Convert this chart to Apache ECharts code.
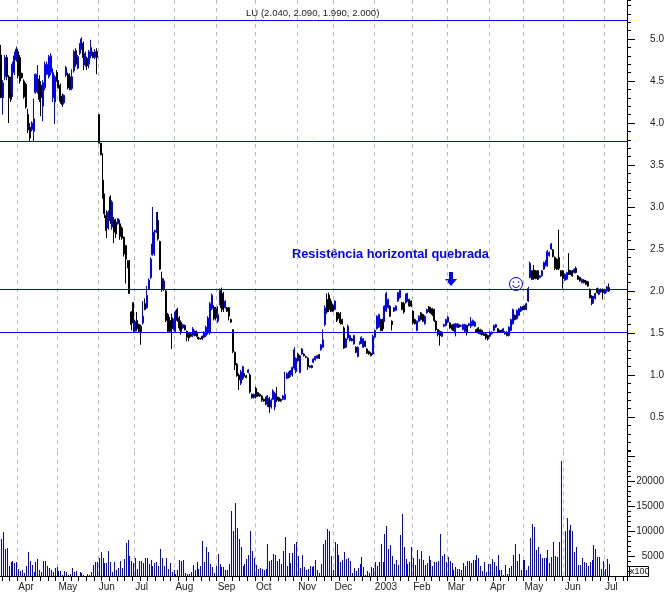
<!DOCTYPE html>
<html>
<head>
<meta charset="utf-8">
<style>
	html, body { margin: 0; padding: 0; background: #fff; }
	#chart { width: 667px; height: 592px; }
</style>
<script src="https://cdn.jsdelivr.net/npm/echarts@6/dist/echarts.min.js"></script>
</head>
<body>
<div id="chart"></div>
<script>
// trading days per month, first entry is the tail of March 2002
const monthNames = ['Mar', 'Apr', 'May', 'Jun', 'Jul', 'Aug', 'Sep', 'Oct', 'Nov', 'Dec', '2003', 'Feb', 'Mar', 'Apr', 'May', 'Jun', 'Jul'];
const monthDays = [9, 21, 21, 19, 21, 22, 20, 22, 19, 21, 20, 18, 22, 18, 21, 21, 3];
const blankDays = 9;

const highs = [
	4.93,4.51,4.81,4.81,4.57,4.55,4.73,4.85,4.91,4.88,
	4.81,4.60,4.52,4.48,4.17,4.00,4.02,4.29,4.59,4.69,
	4.57,4.50,4.51,4.73,4.73,4.81,4.83,4.65,4.57,4.63,
	4.51,4.47,4.35,4.34,4.68,4.60,4.59,4.64,4.87,4.89,
	4.81,4.95,5.02,4.97,4.85,4.79,4.87,4.99,4.85,4.88,
	4.89,4.10,3.76,3.64,3.16,2.96,2.96,3.14,3.08,2.88,
	2.86,2.87,2.85,2.77,2.65,2.55,2.37,2.37,1.76,1.87,
	1.66,1.75,1.61,1.60,1.88,1.91,2.06,2.15,2.40,3.00,
	2.73,2.94,2.94,2.60,2.23,2.15,2.01,1.74,1.69,1.73,
	1.67,1.77,1.80,1.70,1.65,1.61,1.60,1.53,1.51,1.50,
	1.57,1.53,1.53,1.45,1.44,1.47,1.52,1.59,1.70,1.87,
	1.97,1.83,1.81,1.82,2.03,2.04,1.99,1.89,1.81,1.81,
	1.67,1.54,1.28,1.14,1.02,1.06,1.11,1.02,1.00,1.07,
	1.02,0.78,0.78,0.86,0.80,0.78,0.76,0.72,0.74,0.76,
	0.74,0.72,0.83,0.80,0.86,0.74,0.72,0.76,1.04,1.03,
	1.04,1.06,1.10,1.33,1.21,1.26,1.24,1.32,1.26,1.23,
	1.21,1.12,1.12,1.20,1.23,1.24,1.25,1.37,1.54,1.83,
	1.97,1.98,1.91,1.85,1.89,1.75,1.75,1.75,1.67,1.58,
	1.44,1.60,1.48,1.44,1.48,1.34,1.34,1.40,1.46,1.44,
	1.41,1.32,1.29,1.27,1.48,1.54,1.71,1.73,1.67,1.67,
	1.83,1.99,1.91,1.83,1.65,1.81,1.83,1.99,2.02,1.87,
	1.87,1.97,1.98,1.91,1.89,1.77,1.67,1.65,1.71,1.75,
	1.73,1.71,1.79,1.82,1.81,1.80,1.79,1.65,1.55,1.53,
	1.52,1.61,1.67,1.70,1.63,1.60,1.61,1.62,1.62,1.61,
	1.60,1.61,1.61,1.60,1.62,1.69,1.66,1.64,1.55,1.57,
	1.55,1.54,1.50,1.50,1.48,1.52,1.52,1.60,1.61,1.56,
	1.54,1.54,1.56,1.52,1.52,1.58,1.67,1.79,1.72,1.78,
	1.80,1.82,1.82,1.83,1.86,2.05,2.35,2.25,2.31,2.25,
	2.25,2.19,2.25,2.35,2.37,2.49,2.47,2.57,2.50,2.41,
	2.39,2.73,2.25,2.25,2.21,2.23,2.45,2.25,2.25,2.27,
	2.29,2.19,2.17,2.15,2.14,2.13,2.12,2.03,1.95,1.94,
	1.98,2.04,2.03,2.03,2.03,2.02,2.06,2.09
];
const lows = [
	4.30,4.10,4.51,4.51,4.00,4.25,4.31,4.57,4.73,4.53,
	4.47,4.53,4.29,4.17,3.88,3.78,3.90,3.78,4.35,4.35,
	4.25,4.08,4.02,4.39,4.57,4.53,4.57,4.25,3.99,4.49,
	4.41,4.23,4.19,4.22,4.55,4.40,4.39,4.39,4.60,4.67,
	4.64,4.81,4.87,4.63,4.67,4.63,4.65,4.77,4.77,4.76,
	4.58,3.76,3.62,3.10,2.87,2.63,2.73,2.80,2.73,2.57,
	2.63,2.79,2.61,2.61,2.41,2.09,2.27,1.97,1.53,1.50,
	1.50,1.52,1.50,1.36,1.60,1.77,1.79,2.01,2.14,2.42,
	2.42,2.69,2.60,2.25,1.99,2.00,1.63,1.50,1.50,1.31,
	1.53,1.50,1.63,1.53,1.48,1.55,1.53,1.40,1.40,1.45,
	1.45,1.46,1.45,1.42,1.42,1.42,1.44,1.45,1.48,1.48,
	1.77,1.65,1.65,1.62,1.83,1.75,1.75,1.79,1.75,1.65,
	1.62,1.26,1.06,0.98,0.82,0.88,0.94,0.98,0.96,1.02,
	0.78,0.72,0.72,0.72,0.74,0.74,0.68,0.68,0.64,0.62,
	0.55,0.60,0.70,0.58,0.68,0.68,0.68,0.70,0.70,0.95,
	0.96,0.98,0.98,1.06,1.02,1.16,1.02,1.24,1.22,1.20,
	1.06,1.08,1.08,1.14,1.17,1.19,1.19,1.29,1.32,1.58,
	1.73,1.75,1.75,1.75,1.77,1.63,1.67,1.60,1.60,1.31,
	1.32,1.42,1.40,1.40,1.36,1.26,1.21,1.36,1.37,1.32,
	1.33,1.25,1.24,1.22,1.24,1.44,1.54,1.56,1.52,1.52,
	1.63,1.75,1.79,1.69,1.53,1.75,1.76,1.87,1.91,1.77,
	1.73,1.85,1.87,1.81,1.81,1.60,1.60,1.52,1.63,1.65,
	1.63,1.60,1.73,1.75,1.73,1.70,1.63,1.52,1.46,1.35,
	1.45,1.57,1.58,1.62,1.55,1.54,1.52,1.46,1.56,1.56,
	1.57,1.53,1.50,1.47,1.58,1.56,1.58,1.57,1.50,1.49,
	1.48,1.47,1.47,1.42,1.41,1.45,1.48,1.52,1.56,1.50,
	1.50,1.50,1.50,1.48,1.46,1.46,1.52,1.60,1.65,1.66,
	1.70,1.75,1.77,1.77,1.77,1.87,2.15,2.13,2.13,2.14,
	2.13,2.15,2.17,2.25,2.29,2.29,2.41,2.49,2.40,2.25,
	2.25,2.25,2.17,2.03,2.12,2.13,2.19,2.19,2.17,2.21,
	2.21,2.13,2.11,2.09,2.09,2.07,2.05,1.91,1.83,1.85,
	1.90,1.97,1.95,1.98,1.90,1.96,1.98,1.99
];
const opens = [
	4.81,4.30,4.55,4.78,4.55,4.52,4.35,4.60,4.75,4.85,
	4.78,4.59,4.50,4.46,4.10,3.95,3.92,3.90,4.36,4.37,
	4.52,4.45,4.20,4.42,4.58,4.55,4.60,4.30,4.25,4.60,
	4.50,4.45,4.32,4.24,4.57,4.58,4.55,4.41,4.62,4.86,
	4.65,4.83,4.89,4.95,4.69,4.77,4.70,4.80,4.84,4.78,
	4.85,4.10,3.76,3.32,3.14,2.90,2.75,3.12,2.76,2.85,
	2.82,2.80,2.80,2.75,2.64,2.54,2.36,2.28,1.75,1.86,
	1.52,1.65,1.60,1.58,1.62,1.85,1.80,2.02,2.16,2.43,
	2.44,2.70,2.84,2.59,2.15,2.02,2.00,1.72,1.65,1.68,
	1.55,1.52,1.78,1.68,1.63,1.56,1.59,1.52,1.50,1.49,
	1.47,1.52,1.51,1.45,1.44,1.46,1.45,1.47,1.50,1.50,
	1.79,1.81,1.79,1.64,1.85,2.00,1.97,1.80,1.80,1.80,
	1.66,1.54,1.27,1.13,1.00,0.90,0.96,1.01,0.99,1.03,
	1.00,0.77,0.73,0.84,0.79,0.77,0.75,0.71,0.72,0.65,
	0.72,0.62,0.71,0.62,0.74,0.73,0.71,0.71,0.71,0.96,
	1.03,0.99,1.00,1.08,1.04,1.25,1.03,1.25,1.25,1.22,
	1.20,1.09,1.11,1.15,1.18,1.20,1.24,1.30,1.33,1.60,
	1.90,1.95,1.88,1.83,1.78,1.74,1.74,1.73,1.66,1.56,
	1.33,1.44,1.41,1.43,1.37,1.33,1.22,1.37,1.38,1.33,
	1.40,1.31,1.28,1.26,1.25,1.45,1.55,1.57,1.66,1.65,
	1.64,1.76,1.80,1.82,1.64,1.76,1.77,1.88,1.92,1.86,
	1.85,1.86,1.88,1.90,1.88,1.76,1.66,1.53,1.64,1.74,
	1.72,1.61,1.74,1.81,1.80,1.79,1.78,1.64,1.54,1.52,
	1.46,1.58,1.59,1.63,1.62,1.59,1.60,1.50,1.57,1.60,
	1.58,1.54,1.52,1.59,1.59,1.58,1.59,1.58,1.54,1.56,
	1.54,1.53,1.49,1.49,1.47,1.46,1.49,1.53,1.57,1.55,
	1.53,1.53,1.51,1.51,1.51,1.47,1.53,1.61,1.71,1.67,
	1.71,1.76,1.81,1.82,1.78,1.88,2.16,2.24,2.25,2.24,
	2.24,2.16,2.18,2.26,2.30,2.31,2.42,2.50,2.49,2.40,
	2.38,2.40,2.24,2.24,2.13,2.14,2.25,2.24,2.24,2.22,
	2.27,2.18,2.16,2.10,2.13,2.12,2.11,2.02,1.94,1.86,
	1.91,2.03,1.96,2.02,2.02,1.97,2.00,2.04
];
const closes = [
	4.30,4.48,4.78,4.55,4.30,4.28,4.70,4.80,4.88,4.56,
	4.50,4.54,4.31,4.19,3.92,3.82,4.00,4.05,4.58,4.58,
	4.28,4.30,4.48,4.70,4.70,4.79,4.80,4.60,4.55,4.50,
	4.42,4.26,4.22,4.33,4.66,4.42,4.40,4.55,4.85,4.70,
	4.79,4.93,5.00,4.78,4.83,4.68,4.85,4.90,4.78,4.85,
	4.78,3.76,3.62,3.12,2.92,2.72,2.94,2.84,3.06,2.70,
	2.68,2.86,2.65,2.63,2.44,2.38,2.28,1.97,1.60,1.62,
	1.64,1.55,1.52,1.50,1.70,1.78,1.95,2.13,2.38,2.56,
	2.70,2.72,2.62,2.26,2.02,2.12,1.65,1.52,1.52,1.55,
	1.65,1.75,1.65,1.56,1.52,1.60,1.54,1.45,1.44,1.46,
	1.55,1.47,1.46,1.43,1.43,1.43,1.51,1.57,1.68,1.85,
	1.95,1.67,1.68,1.72,2.01,1.80,1.78,1.88,1.76,1.70,
	1.63,1.28,1.12,0.99,0.94,1.04,1.10,0.99,0.97,1.06,
	0.80,0.73,0.77,0.74,0.75,0.75,0.70,0.69,0.66,0.75,
	0.62,0.70,0.81,0.78,0.70,0.69,0.69,0.75,0.77,1.02,
	0.97,1.05,1.09,1.30,1.20,1.17,1.23,1.31,1.23,1.21,
	1.10,1.11,1.09,1.19,1.22,1.23,1.20,1.36,1.42,1.80,
	1.75,1.78,1.76,1.76,1.88,1.65,1.68,1.62,1.61,1.32,
	1.43,1.58,1.47,1.41,1.47,1.27,1.33,1.39,1.45,1.43,
	1.34,1.26,1.25,1.23,1.46,1.53,1.70,1.72,1.53,1.55,
	1.82,1.97,1.90,1.70,1.60,1.80,1.82,1.98,2.01,1.78,
	1.75,1.96,1.97,1.82,1.82,1.62,1.61,1.64,1.70,1.66,
	1.64,1.70,1.78,1.76,1.74,1.72,1.65,1.54,1.48,1.47,
	1.51,1.60,1.66,1.69,1.56,1.55,1.53,1.61,1.61,1.57,
	1.59,1.60,1.60,1.50,1.61,1.64,1.65,1.63,1.51,1.50,
	1.49,1.48,1.47,1.44,1.43,1.51,1.51,1.59,1.60,1.51,
	1.51,1.51,1.55,1.49,1.47,1.57,1.66,1.78,1.66,1.77,
	1.79,1.81,1.78,1.78,1.85,2.03,2.33,2.14,2.15,2.15,
	2.14,2.18,2.24,2.34,2.36,2.47,2.46,2.56,2.41,2.27,
	2.26,2.27,2.18,2.15,2.20,2.22,2.20,2.20,2.18,2.26,
	2.22,2.14,2.12,2.14,2.10,2.08,2.06,1.92,1.85,1.93,
	1.97,1.98,2.02,1.99,1.98,2.01,2.05,2.00
];
const volumes = [
	8500,9900,6500,6700,3100,3900,4100,3700,3800,2500,
	2000,2200,1700,3000,5900,4100,3300,1900,3900,4500,
	2300,1900,4100,4100,3100,2700,2300,1900,2700,2900,
	2100,2100,1300,2100,1900,1300,1500,2700,1900,2100,
	1100,1900,1700,1300,1100,1500,1300,1800,3200,3900,
	3900,4700,5900,4700,3700,3700,6100,3900,1900,3900,
	2300,2700,4100,2700,4500,7700,8300,5100,4100,3700,
	4700,2500,4100,4100,3700,4700,4700,3500,4300,3100,
	3700,3900,3100,6500,4700,3100,4700,2500,3700,1900,
	2300,1500,2300,4300,4100,4300,1700,1500,1500,1900,
	3300,2300,3900,2500,3100,8100,3900,6900,5900,3500,
	2900,1700,3100,5500,3500,2900,2900,2300,2300,3500,
	14100,10100,15700,10700,8500,6900,3100,3500,4500,5300,
	10100,6100,4700,3300,2500,2700,2500,2200,2500,7500,
	4100,4300,5500,5300,4100,4500,3500,6100,8900,3100,
	5700,3700,5700,7500,7900,5100,2700,5300,2900,2300,
	2500,3100,2900,3100,4300,2300,1700,3500,7500,8300,
	10500,10100,5100,2300,7900,7500,5300,3900,
	4300,5900,4500,4700,4000,1700,2700,2100,2700,3500,
	4900,2900,1300,2100,1700,2900,2700,3900,3100,3900,
	7500,3900,9500,11100,6500,7300,5100,3500,4300,3300,
	9300,13500,6900,4500,3500,3900,6900,4700,3200,6300,
	4500,6100,4300,3300,3700,5100,4300,3100,3900,3900,
	4100,9500,5100,5500,3900,4900,4100,3700,2300,2900,
	2500,2500,2300,3700,3100,4100,4100,3700,4300,
	4300,5300,4700,3100,2100,3900,1900,3500,3500,4500,
	3900,3100,5300,2300,2300,1300,3300,1500,2700,
	3100,5300,7500,4100,5500,2300,4300,4300,2300,
	3100,8700,11500,10900,6300,6900,5500,4700,4700,4700,
	6300,3700,4900,7800,5100,4900,7900,24000,1100,
	10000,12700,10300,11300,10100,5900,6900,3300,3300,4700,
	3900,3700,3100,3900,4300,7300,6500,4900,4900,2500,
	4100,2500,4500,3500
];

const levelLines = [5.22, 3.78, 2.018, 1.506];
const priceTicks = [0.5, 1.0, 1.5, 2.0, 2.5, 3.0, 3.5, 4.0, 4.5, 5.0];
const volumeTicks = [5000, 10000, 15000, 20000, 25000];
const volumeLabels = [5000, 10000, 15000, 20000];

const titleText = 'LU (2.040, 2.090, 1.990, 2.000)';
const noteText = 'Resistência horizontal quebrada';

const BLUE = '#0000ff';
const FONT = '"Liberation Sans", Arial, sans-serif';
const PRICE_MIN = 0.1;
const PRICE_MAX = 5.4643;

// category list and the index of each month's first day
let categories = [];
let monthStarts = {};
monthNames.forEach((name, m) => {
	if (m > 0) monthStarts[categories.length] = true;
	for (let d = 0; d < monthDays[m]; d++) categories.push(name);
});
for (let d = 0; d < blankDays; d++) categories.push('');

const isMonthStart = (index) => monthStarts[index] === true;
const isWeekTick = (index) => index % 4 === 1;

let candles = highs.map((h, i) => [opens[i], closes[i], lows[i], h]);

// plain bars blur at 1px on a fractional band, so snap them to whole pixels
function renderVolume(params, api) {
	let top = api.coord([api.value(0), api.value(1)]);
	let base = api.coord([api.value(0), 1000]);
	let x = Math.round(top[0]);
	let y = Math.round(top[1]);
	return {
		type: 'rect',
		shape: { x: x, y: y, width: 1, height: Math.round(base[1]) - y },
		style: { fill: BLUE }
	};
}

const hiddenX = {
	type: 'category',
	data: categories,
	axisLine: { show: false },
	axisTick: { show: false },
	axisLabel: { show: false }
};
const monthGridLine = {
	show: true,
	interval: isMonthStart,
	lineStyle: { color: '#bbbbbb', type: [4, 4], width: 1 }
};

let chart = echarts.init(document.getElementById('chart'));
chart.setOption({
	animation: false,
	backgroundColor: '#ffffff',
	title: {
		text: titleText,
		left: 241,
		top: 3,
		textStyle: { fontFamily: FONT, fontSize: 9.6, fontWeight: 'normal', color: '#222222' }
	},
	grid: [
		{ left: 0, width: 627, top: 0, height: 450.6 },
		{ left: 0, width: 627, top: 451.5, height: 125 }
	],
	xAxis: [
		Object.assign({}, hiddenX, { gridIndex: 0, splitLine: monthGridLine }),
		{
			type: 'category',
			gridIndex: 1,
			position: 'bottom',
			data: categories,
			axisLine: { lineStyle: { color: '#000000', width: 1 } },
			axisTick: { interval: isMonthStart, length: 15, lineStyle: { color: '#000000' } },
			axisLabel: {
				interval: isMonthStart,
				align: 'left',
				margin: 6,
				fontFamily: FONT,
				fontSize: 10,
				color: '#222222'
			},
			splitLine: monthGridLine
		},
		Object.assign({}, hiddenX, {
			gridIndex: 1,
			position: 'bottom',
			axisTick: { show: true, interval: isWeekTick, length: 5, lineStyle: { color: '#000000' } }
		})
	],
	yAxis: [
		{
			type: 'value',
			gridIndex: 0,
			position: 'right',
			min: PRICE_MIN,
			max: PRICE_MAX,
			interval: 0.1,
			axisLine: { show: true, lineStyle: { color: '#000000' } },
			axisTick: { show: true, length: 4, lineStyle: { color: '#000000' } },
			axisLabel: { show: false },
			splitLine: { show: false }
		},
		{
			type: 'value',
			gridIndex: 0,
			position: 'right',
			min: PRICE_MIN,
			max: PRICE_MAX,
			axisLine: { show: false },
			axisTick: { show: true, length: 8, customValues: priceTicks, lineStyle: { color: '#000000' } },
			axisLabel: {
				customValues: priceTicks,
				formatter: (v) => v.toFixed(1),
				align: 'right',
				margin: 37,
				fontFamily: FONT,
				fontSize: 10,
				color: '#222222'
			},
			splitLine: { show: false }
		},
		{
			type: 'value',
			gridIndex: 1,
			position: 'right',
			min: 1000,
			max: 26000,
			interval: 1000,
			axisLine: { show: true, lineStyle: { color: '#000000' } },
			axisTick: { show: true, length: 4, lineStyle: { color: '#000000' } },
			axisLabel: { show: false },
			splitLine: { show: false }
		},
		{
			type: 'value',
			gridIndex: 1,
			position: 'right',
			min: 1000,
			max: 26000,
			axisLine: { show: false },
			axisTick: { show: true, length: 8, customValues: volumeTicks, lineStyle: { color: '#000000' } },
			axisLabel: {
				customValues: volumeLabels,
				formatter: (v) => String(v),
				align: 'right',
				margin: 37,
				fontFamily: FONT,
				fontSize: 10,
				color: '#222222'
			},
			splitLine: { show: false }
		}
	],
	series: [
		{
			type: 'candlestick',
			xAxisIndex: 0,
			yAxisIndex: 0,
			data: candles,
			barWidth: 1.5,
			itemStyle: {
				color: 'transparent',
				color0: '#000000',
				borderColor: BLUE,
				borderColor0: '#000000',
				borderWidth: 1
			}
		},
		{
			// only carries the horizontal support and resistance lines
			type: 'line',
			xAxisIndex: 0,
			yAxisIndex: 0,
			data: [],
			markLine: {
				silent: true,
				symbol: 'none',
				label: { show: false },
				lineStyle: { color: BLUE, type: 'solid', width: 1 },
				data: levelLines.map((v) => ({ yAxis: v }))
			}
		},
		{
			type: 'custom',
			xAxisIndex: 1,
			yAxisIndex: 2,
			data: volumes.map((v, i) => [i, v]),
			encode: { x: 0, y: 1 },
			renderItem: renderVolume
		}
	],
	graphic: [
		{
			type: 'text',
			x: 292,
			y: 248,
			style: { text: noteText, font: 'bold 12.8px ' + FONT, fill: BLUE }
		},
		{
			type: 'polygon',
			shape: { points: [[449, 272], [453, 272], [453, 279], [457, 279], [451, 286], [445, 279], [449, 279]] },
			style: { fill: BLUE }
		},
		{
			type: 'group',
			x: 516,
			y: 284,
			children: [
				{ type: 'circle', shape: { r: 6.5 }, style: { fill: 'none', stroke: BLUE, lineWidth: 1 } },
				{ type: 'circle', shape: { cx: -2.5, cy: -2, r: 0.8 }, style: { fill: BLUE } },
				{ type: 'circle', shape: { cx: 2.5, cy: -2, r: 0.8 }, style: { fill: BLUE } },
				{
					type: 'arc',
					shape: { r: 3.5, startAngle: 0.3, endAngle: Math.PI - 0.3 },
					style: { fill: 'none', stroke: BLUE, lineWidth: 1 }
				}
			]
		},
		{
			type: 'rect',
			shape: { x: 629.5, y: 566.5, width: 19, height: 10 },
			style: { fill: '#ffffff', stroke: '#000000', lineWidth: 1 }
		},
		{
			type: 'text',
			x: 630,
			y: 567,
			style: { text: 'x100', font: '9px ' + FONT, fill: '#222222' }
		}
	]
});
</script>
</body>
</html>
